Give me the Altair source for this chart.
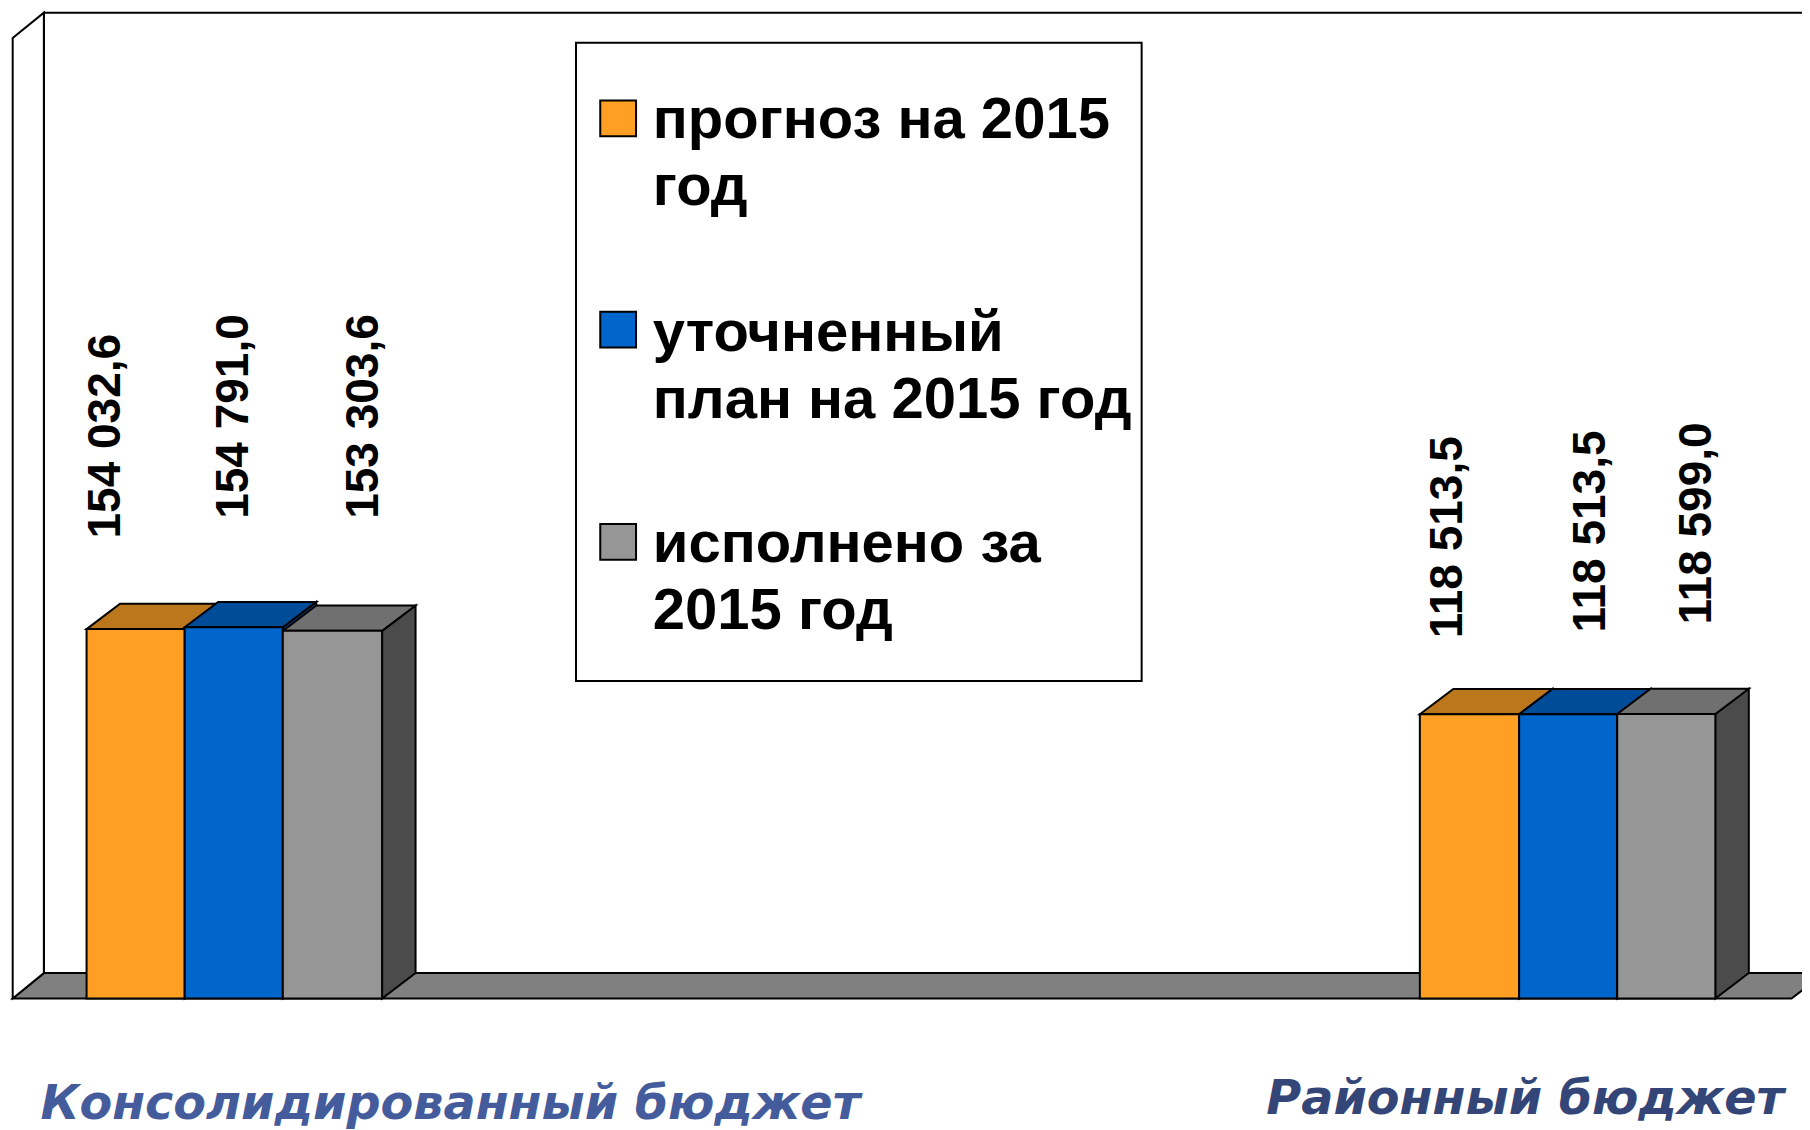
import altair as alt
import pandas as pd

categories = ["Консолидированный бюджет", "Районный бюджет"]
series = ["прогноз на 2015 год", "уточненный план на 2015 год", "исполнено за 2015 год"]
forecast = [154032.6, 118513.5]
refined = [154791.0, 118513.5]
executed = [153303.6, 118599.0]
legend_lines = ["прогноз на 2015\nгод", "уточненный\nплан на 2015 год", "исполнено за\n2015 год"]

front_colors = ["#FFA024", "#0066CC", "#969696"]
top_colors = ["#BC771C", "#004C99", "#707070"]
side_colors = ["#BC771C", "#004C99", "#4B4B4B"]
values = [forecast, refined, executed]

# layout, in pixels of the full picture
W, H = 1794, 1122
S = 1810 / 1568
FLOOR = 865 * S
PX_PER = 369.4 / 154032.6
DX, DY = 29 * S, 22 * S
BAR_EDGES = [[75 * S, 160 * S, 245 * S, 331 * S], [1230 * S, 1316 * S, 1401 * S, 1486 * S]]
LABEL_X = [[92 * S, 203 * S, 315.5 * S], [1254.5 * S, 1378.5 * S, 1470 * S]]
LABEL_BOTTOM = [[466.5 * S, 449.5 * S, 449.5 * S], [553 * S, 548 * S, 541 * S]]


def px(x):
    return x - 8


def val(py):
    return (FLOOR - py) / PX_PER


Y_DOM = [val(8 + H), val(8)]
DV = DY / PX_PER


def X(f="x"):
    return alt.X(f + ":Q", scale=alt.Scale(domain=[0, W], range=[0, W]), axis=None)


def Y(f="y"):
    return alt.Y(f + ":Q", scale=alt.Scale(domain=Y_DOM, zero=False, nice=False), axis=None, stack=None)


fronts, tops, sides, labels = [], [], [], []
for g in range(2):
    for s in range(3):
        v = values[s][g]
        x0, x1 = BAR_EDGES[g][s], BAR_EDGES[g][s + 1]
        bid = f"{g}-{s}"
        fronts.append(dict(x=px(x0), x2=px(x1), y=v, y2=0, color=front_colors[s]))
        for a, b, c in [(x0, v, v), (x0 + DX, v + DV, v), (x1, v + DV, v), (x1 + DX, v + DV, v + DV)]:
            tops.append(dict(id=bid, x=px(a), y=b, y2=c, color=top_colors[s]))
        for a, b, c in [(x1, v, 0), (x1 + DX, v + DV, DV)]:
            sides.append(dict(id=bid, x=px(a), y=b, y2=c, color=side_colors[s]))
        text = f"{v:,.1f}".replace(",", " ").replace(".", ",")
        labels.append(dict(x=px(LABEL_X[g][s]), y=val(LABEL_BOTTOM[g][s]), text=text))

LEFT = 11 * S
RIGHT = 1552 * S
floor_df = pd.DataFrame([
    dict(x=px(LEFT), y=0, y2=0),
    dict(x=px(LEFT + DX * 27 / 29), y=DV, y2=0),
    dict(x=px(RIGHT), y=DV, y2=0),
    dict(x=px(RIGHT + DX), y=DV, y2=DV),
])
wall_df = pd.DataFrame([
    dict(x=px(LEFT), y=val(33 * S), y2=0),
    dict(x=px(38 * S), y=val(11 * S), y2=DV),
])
back_df = pd.DataFrame([dict(x=px(38 * S), x2=W + 40, y=val(11 * S), y2=DV)])

back = alt.Chart(back_df).mark_rect(fill="white", stroke="black", strokeWidth=2, clip=True).encode(
    x=X(), x2="x2:Q", y=Y(), y2="y2:Q")
floor = alt.Chart(floor_df).mark_area(fill="#808080", stroke="black", strokeWidth=2, clip=True).encode(
    x=X(), y=Y(), y2="y2:Q")
wall = alt.Chart(wall_df).mark_area(fill="white", stroke="black", strokeWidth=2).encode(
    x=X(), y=Y(), y2="y2:Q")
side_l = alt.Chart(pd.DataFrame(sides)).mark_area(stroke="black", strokeWidth=2).encode(
    x=X(), y=Y(), y2="y2:Q", detail="id:N", fill=alt.Fill("color:N", scale=None))
top_l = alt.Chart(pd.DataFrame(tops)).mark_area(stroke="black", strokeWidth=2).encode(
    x=X(), y=Y(), y2="y2:Q", detail="id:N", fill=alt.Fill("color:N", scale=None))
front_l = alt.Chart(pd.DataFrame(fronts)).mark_rect(stroke="black", strokeWidth=2).encode(
    x=X(), x2="x2:Q", y=Y(), y2="y2:Q", fill=alt.Fill("color:N", scale=None))
label_l = alt.Chart(pd.DataFrame(labels)).mark_text(
    angle=270, align="left", baseline="middle", font="Liberation Sans", fontWeight="bold", fontSize=46, color="black"
).encode(x=X(), y=Y(), text="text:N")

box_df = pd.DataFrame([dict(x=px(499 * S), x2=px(989 * S), y=val(37 * S), y2=val(590 * S))])
box = alt.Chart(box_df).mark_rect(fill="white", stroke="black", strokeWidth=2).encode(
    x=X(), x2="x2:Q", y=Y(), y2="y2:Q")
SW_TOP = [87 * S, 270 * S, 454 * S]
sw_df = pd.DataFrame([
    dict(x=px(520 * S), x2=px(551 * S), y=val(SW_TOP[i]), y2=val(SW_TOP[i] + 31 * S), color=front_colors[i], name=series[i])
    for i in range(3)
])
swatch = alt.Chart(sw_df).mark_rect(stroke="black", strokeWidth=2).encode(
    x=X(), x2="x2:Q", y=Y(), y2="y2:Q", fill=alt.Fill("color:N", scale=None))
TXT_BASE = [119.5 * S, 304 * S, 487 * S]
lt_df = pd.DataFrame([dict(x=px(565.5 * S), y=val(TXT_BASE[i]), text=legend_lines[i]) for i in range(3)])
legend_text = alt.Chart(lt_df).mark_text(
    align="left", baseline="alphabetic", font="Liberation Sans", fontWeight="bold", fontSize=58,
    lineBreak="\n", lineHeight=67, color="black"
).encode(x=X(), y=Y(), text="text:N")

cat_df = pd.DataFrame([
    dict(x=px(35 * S), y=val(969 * S), text=categories[0], color="#445C9C"),
    dict(x=px(1097 * S), y=val(965 * S), text=categories[1], color="#344677"),
])
cat_l = alt.Chart(cat_df).mark_text(
    align="left", baseline="alphabetic", font="DejaVu Sans", fontWeight="bold", fontStyle="italic", fontSize=47.7
).encode(x=X(), y=Y(), text="text:N", color=alt.Color("color:N", scale=None))

chart = alt.layer(back, floor, wall, side_l, top_l, front_l, label_l, box, swatch, legend_text, cat_l).properties(
    width=W, height=H, padding=0, autosize=alt.AutoSizeParams(type="none"), background="white"
).configure_view(stroke=None)

chart.save("out.html", embed_options={"renderer": "svg", "actions": False})
